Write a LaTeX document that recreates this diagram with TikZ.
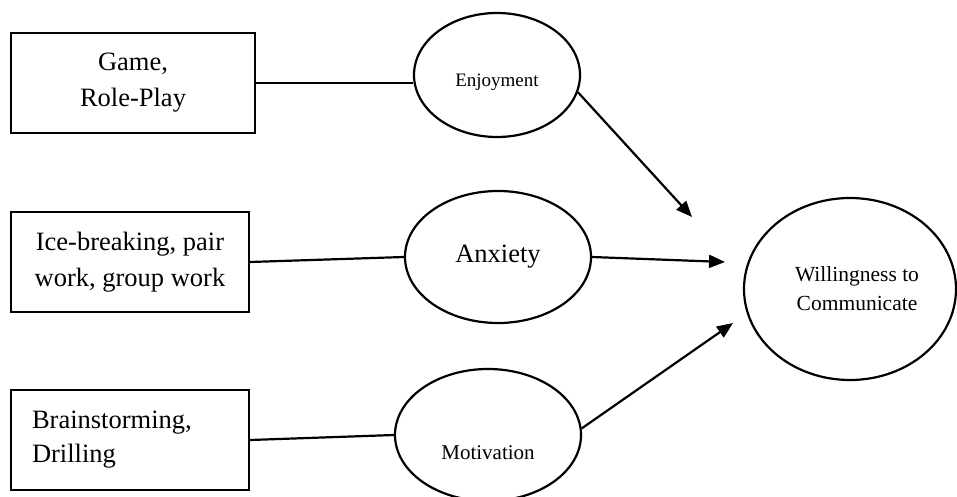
\documentclass[tikz,border=0pt]{standalone}
\usepackage{fontspec}
\setmainfont{Liberation Serif}
\usetikzlibrary{shapes.geometric,arrows.meta}
\begin{document}
\begin{tikzpicture}[x=1pt,y=-1pt,
  box/.style={draw, line width=2.4pt, minimum width=#1, minimum height=100pt, inner sep=0pt},
  oval/.style={draw, ellipse, line width=2.2pt, inner sep=0pt},
  conn/.style={line width=2.2pt},
  arr/.style={line width=2.2pt, -{Triangle[length=16pt,width=13pt]}},
  bigtxt/.style={font=\fontsize{26.5}{36}\selectfont},
]
\useasboundingbox (0,0) rectangle (957,497);
% boxes
\node[box=244pt, bigtxt, align=center] (b1) at (133,83) {Game,\\Role-Play};
\node[box=238pt, bigtxt, align=center] (b2) at (130,262) {Ice-breaking, pair\\work, group work};
\node[box=238pt, font=\fontsize{26.5}{34}\selectfont, align=left, text width=196pt] (b3) at (130,440) {Brainstorming,\\Drilling};
% ellipses
\node[oval, minimum width=166pt, minimum height=124pt,
  label={[font=\fontsize{19}{22}\selectfont, yshift=-7pt]center:Enjoyment}] (enj) at (497,75) {};
\node[oval, minimum width=186pt, minimum height=132pt, font=\fontsize{26.5}{30}\selectfont] (anx) at (498,257) {Anxiety};
\node[oval, minimum width=186pt, minimum height=132pt,
  label={[font=\fontsize{21}{24}\selectfont, yshift=-18pt]center:Motivation}] (mot) at (488,435) {};
\node[oval, minimum width=212pt, minimum height=182pt,
  label={[font=\fontsize{21.5}{29}\selectfont, align=center, xshift=7pt]center:Willingness to\\Communicate}] (wtc) at (850,289) {};
% arrow tips
\coordinate (t1) at (692,217);
\coordinate (t2) at (725,262);
\coordinate (t3) at (733,323);
% connectors
\draw[conn] (b1.east) -- (b1.east -| enj.west);
\draw[conn] (b2.east) -- (anx.west);
\draw[conn] (b3.east) -- (mot.west);
\draw[arr] (enj.-12) -- (t1);
\draw[arr] (anx.east) -- (t2);
\draw[arr] (mot.4) -- (t3);
\end{tikzpicture}
\end{document}
